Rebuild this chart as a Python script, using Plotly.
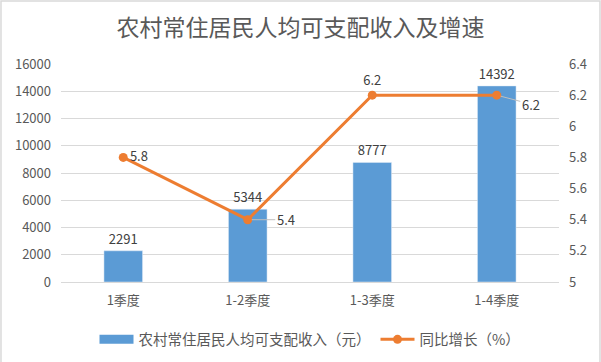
import plotly.graph_objects as go

categories = ["1季度", "1-2季度", "1-3季度", "1-4季度"]
income = [2291, 5344, 8777, 14392]
growth = [5.8, 5.4, 6.2, 6.2]
left_ticks = [0, 2000, 4000, 6000, 8000, 10000, 12000, 14000, 16000]
right_ticks = [5, 5.2, 5.4, 5.6, 5.8, 6, 6.2, 6.4]

FONT = "Noto Sans CJK SC, Microsoft YaHei, sans-serif"
GRAY = "#595959"
BLUE = "#5B9BD5"
ORANGE = "#ED7D31"
income_name = "农村常住居民人均可支配收入（元）"
growth_name = "同比增长（%）"

fig = go.Figure()
fig.add_trace(go.Bar(
    x=categories, y=income, name=income_name, showlegend=False,
    marker_color=BLUE, width=0.31,
    text=[str(v) for v in income], textposition="outside",
    textfont=dict(size=13, color="#404040", family=FONT), cliponaxis=False,
))
# legend entry drawn as a wide block, like the reference
fig.add_trace(go.Scatter(
    x=[None], y=[None], name=income_name, mode="lines",
    line=dict(color=BLUE, width=9), hoverinfo="skip",
))

line_pos = ["middle right", "middle right", "top center", "middle right"]
line_text = [str(growth[0]), "", str(growth[2]), ""]
fig.add_trace(go.Scatter(
    x=categories, y=growth, name=growth_name, yaxis="y2",
    mode="lines+markers+text",
    line=dict(color=ORANGE, width=3), marker=dict(color=ORANGE, size=9),
    text=line_text, textposition=line_pos,
    textfont=dict(size=13, color="#404040", family=FONT), cliponaxis=False,
))

# leader-line labels
leader = {1: (38, 0), 3: (34, 9)}
for i, (ax, ay) in leader.items():
    fig.add_annotation(x=categories[i], y=growth[i], xref="x", yref="y2",
                       text=str(growth[i]), showarrow=True, arrowhead=0,
                       arrowwidth=1, arrowcolor="#BFBFBF", ax=ax, ay=ay,
                       standoff=4,
                       font=dict(size=13, color="#404040", family=FONT))

# outer border
fig.add_shape(type="rect", xref="paper", yref="paper",
              x0=-0.1205, x1=1.0823, y0=-0.3876, y1=1.2890,
              line=dict(color="#D9D9D9", width=1.5))

fig.update_layout(
    width=601, height=362,
    margin=dict(l=61, r=42, t=64, b=80, autoexpand=False),
    paper_bgcolor="white", plot_bgcolor="white",
    font=dict(family=FONT, color=GRAY, size=12),
    title=dict(text="农村常住居民人均可支配收入及增速", x=0.5, xanchor="center",
               y=0.922, yanchor="middle",
               font=dict(size=23, color=GRAY, family=FONT)),
    bargap=0.69,
    showlegend=True,
    legend=dict(orientation="h", x=0.5, xanchor="center", y=-0.19, yanchor="top",
                itemwidth=34,
                font=dict(size=14.5, color=GRAY, family=FONT)),
    xaxis=dict(showgrid=False, showline=True, linecolor="#D9D9D9", automargin=False,
               ticklabelstandoff=6,
               tickfont=dict(size=13, color=GRAY), ticks=""),
    yaxis=dict(range=[0, 16000], tickvals=left_ticks,
               ticktext=[str(v) for v in left_ticks], showgrid=True,
               gridcolor="#D9D9D9", zeroline=False, ticks="", automargin=False,
               ticklabelstandoff=9, tickfont=dict(size=13, color=GRAY)),
    yaxis2=dict(range=[5, 6.4], tickvals=right_ticks,
                ticktext=[str(v) for v in right_ticks], overlaying="y",
                side="right", showgrid=False, zeroline=False, ticks="", automargin=False,
                ticklabelstandoff=9, tickfont=dict(size=13, color=GRAY)),
)

fig.write_html("out.html", config={"displayModeBar": False},
               post_script="document.body.style.margin='0';document.body.style.overflow='hidden';")
